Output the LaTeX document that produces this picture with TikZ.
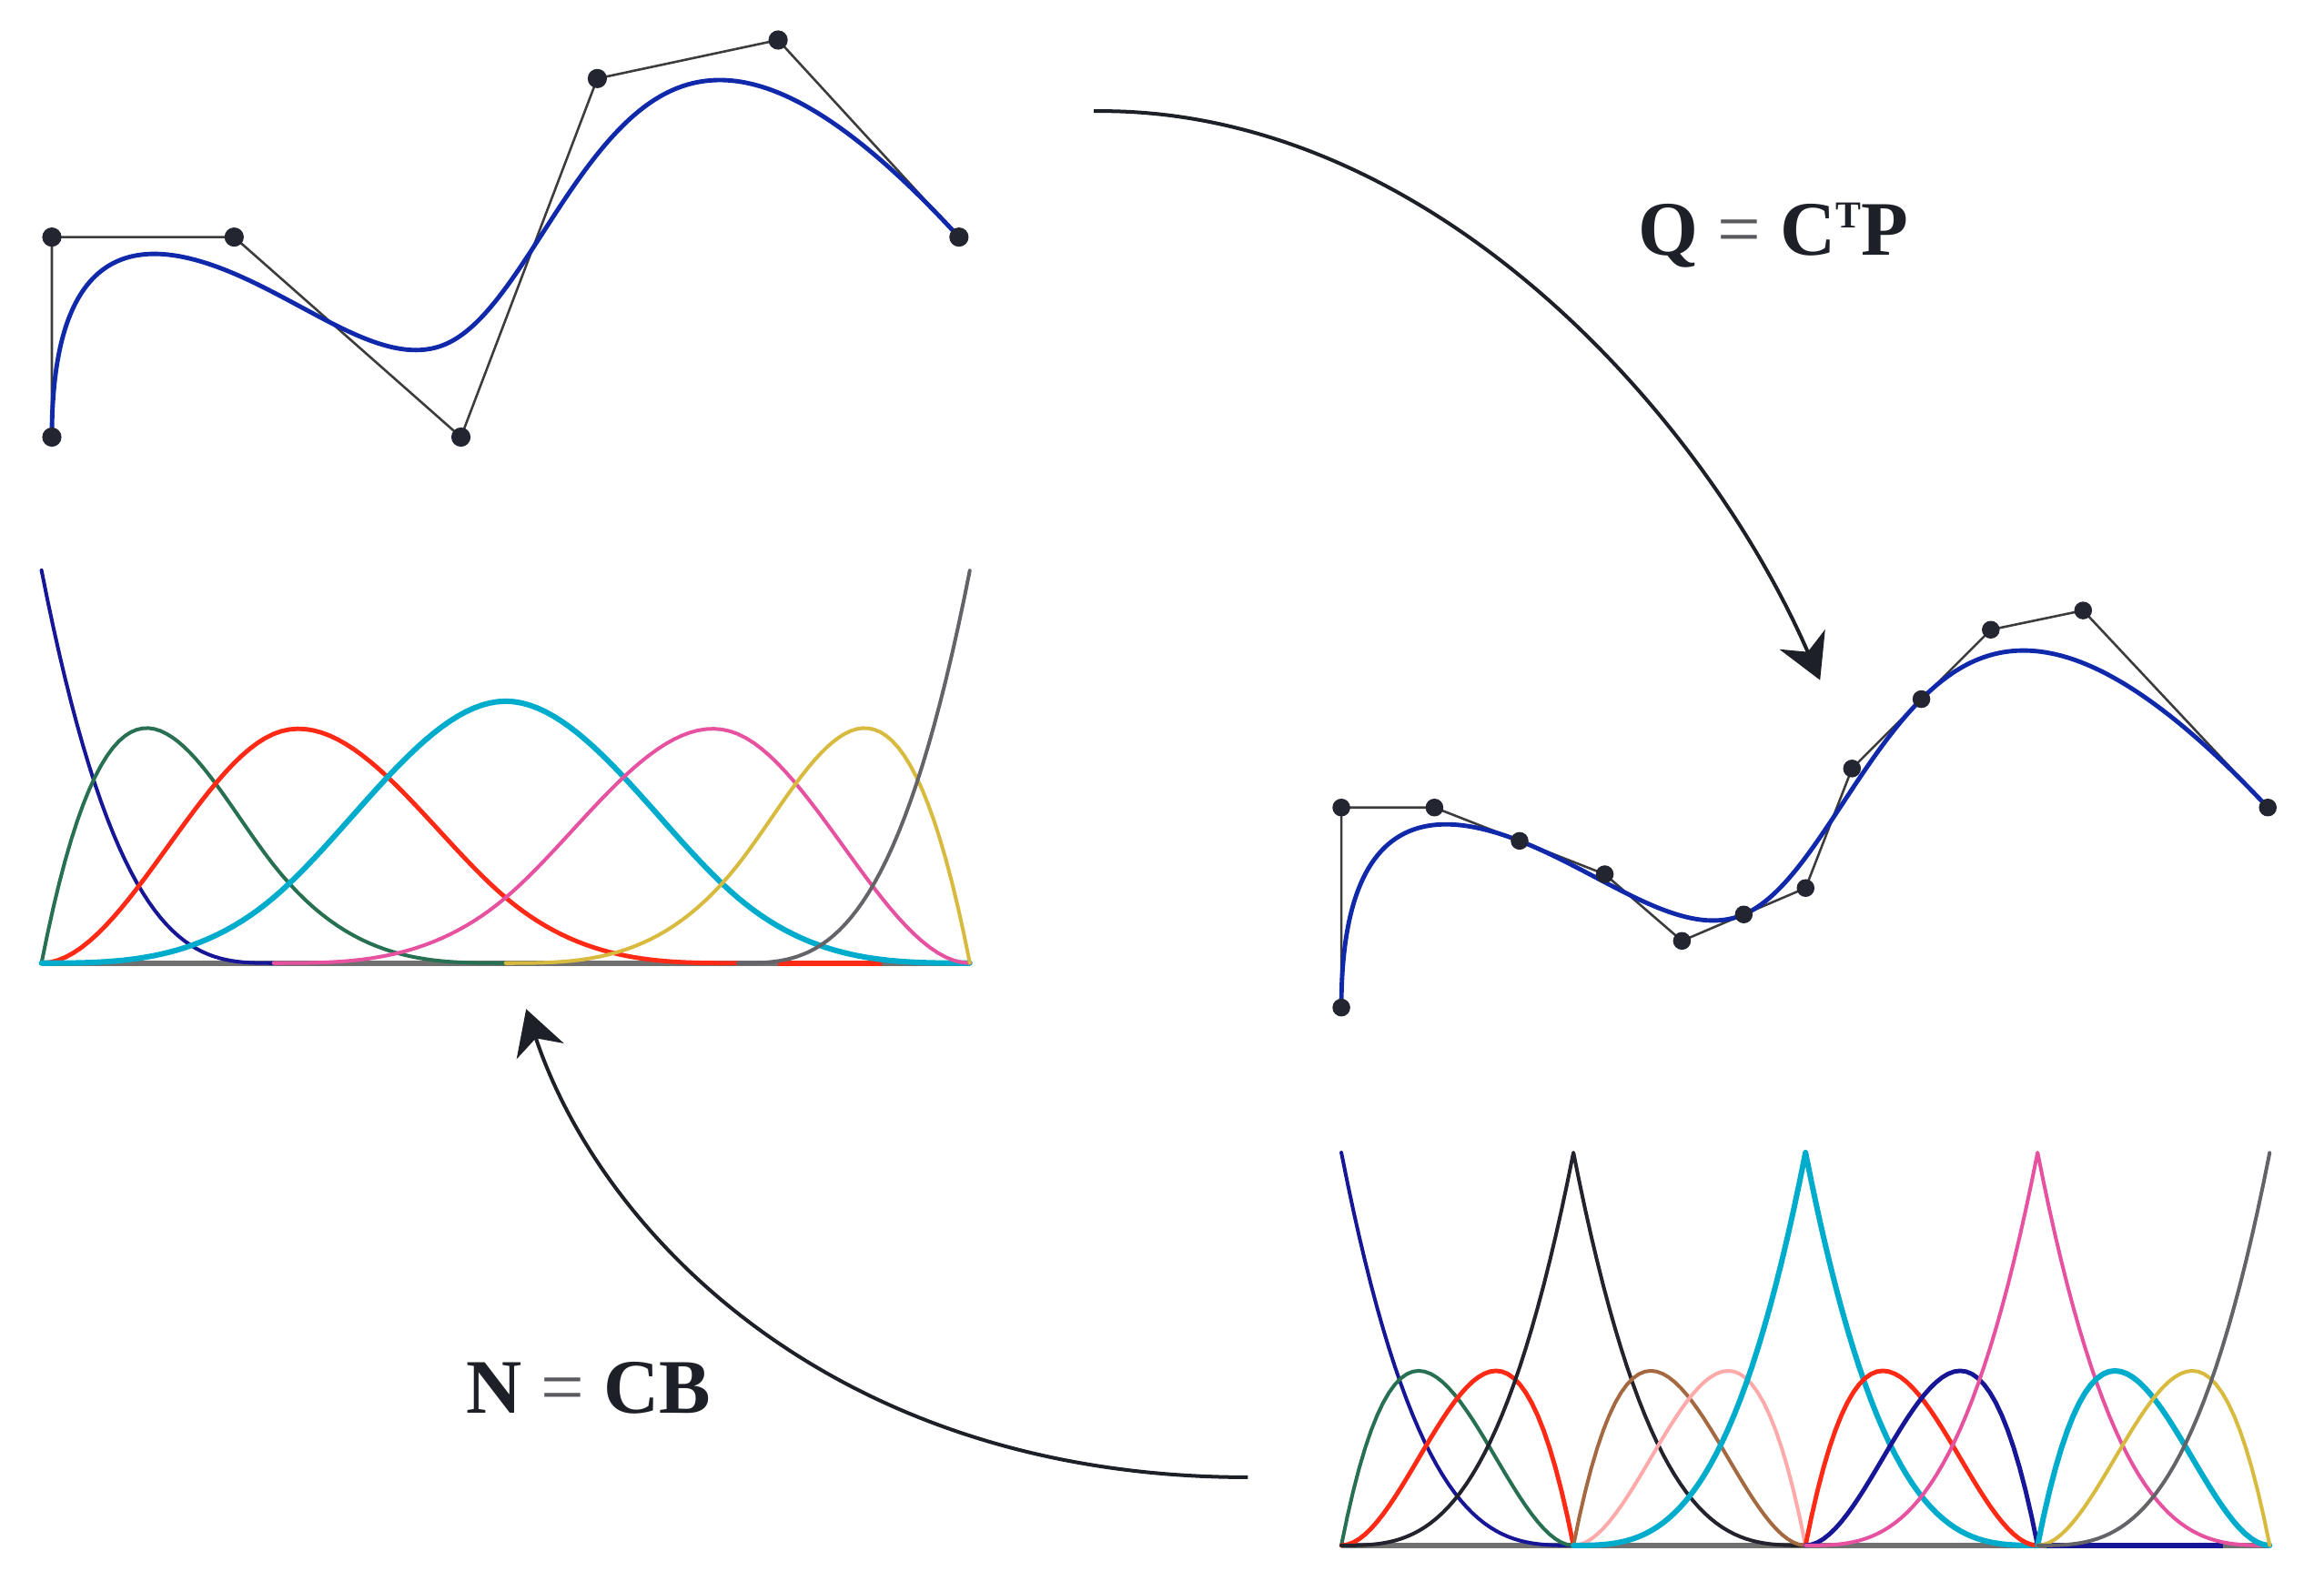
\documentclass[tikz,border=0pt]{standalone}
\usepackage{fontspec}
\setmainfont{Liberation Serif}
\usetikzlibrary{arrows.meta,calc}
\definecolor{cNavy}{RGB}{22,22,150}
\definecolor{cGreen}{RGB}{40,112,82}
\definecolor{cRed}{RGB}{255,42,22}
\definecolor{cCyan}{RGB}{0,172,204}
\definecolor{cPink}{RGB}{230,82,160}
\definecolor{cYellow}{RGB}{216,186,62}
\definecolor{cGray}{RGB}{100,100,104}
\definecolor{cBlack}{RGB}{35,35,45}
\definecolor{cBrown}{RGB}{165,105,65}
\definecolor{cLPink}{RGB}{255,170,170}
\definecolor{cCurve}{RGB}{16,40,170}
\definecolor{cPoly}{RGB}{60,60,62}
\definecolor{cDot}{RGB}{35,38,48}
\definecolor{cArrow}{RGB}{30,32,40}
\definecolor{cBase}{RGB}{112,112,112}
\definecolor{cEq}{RGB}{90,90,95}
\newcommand\splinepts[1]{%
  \coordinate (#1P0) at (35,295);
  \coordinate (#1P1) at (35,160);
  \coordinate (#1P2) at (158,160);
  \coordinate (#1P3) at (311,295);
  \coordinate (#1P4) at (403,53);
  \coordinate (#1P5) at (525,27);
  \coordinate (#1P6) at (647,160);
  \coordinate (#1Q0) at (#1P0);
  \coordinate (#1Q1) at (#1P1);
  \coordinate (#1Q2) at ($0.5*(#1P1)+0.5*(#1P2)$);
  \coordinate (#1Q3) at ($0.25*(#1P1)+0.583333*(#1P2)+0.166667*(#1P3)$);
  \coordinate (#1Q4) at ($0.666667*(#1P2)+0.333333*(#1P3)$);
  \coordinate (#1Q5) at ($0.333333*(#1P2)+0.666667*(#1P3)$);
  \coordinate (#1Q6) at ($0.166667*(#1P2)+0.666667*(#1P3)+0.166667*(#1P4)$);
  \coordinate (#1Q7) at ($0.666667*(#1P3)+0.333333*(#1P4)$);
  \coordinate (#1Q8) at ($0.333333*(#1P3)+0.666667*(#1P4)$);
  \coordinate (#1Q9) at ($0.166667*(#1P3)+0.583333*(#1P4)+0.25*(#1P5)$);
  \coordinate (#1Q10) at ($0.5*(#1P4)+0.5*(#1P5)$);
  \coordinate (#1Q11) at (#1P5);
  \coordinate (#1Q12) at (#1P6);
}
\newcommand\eqsign{{\mdseries\textcolor{cEq}{=}}}
\begin{document}
\begin{tikzpicture}[x=0.01cm,y=-0.01cm,
  declare function={cb(\a)=(\a)*(\a)*(\a); sq(\a)=(\a)*(\a);
    bza(\s)=cb(1-\s); bzb(\s)=3*\s*sq(1-\s); bzc(\s)=3*sq(\s)*(1-\s); bzd(\s)=cb(\s);},
  bas/.style={line width=0.7pt, line join=round, line cap=round},
  thk/.style={line width=0.85pt},
  thkk/.style={line width=1.05pt},
  poly/.style={draw=cPoly, line width=0.45pt},
  bcurve/.style={draw=cCurve, line width=0.85pt},
  dotc/.style={fill=cDot},
  conn/.style={draw=cArrow, line width=0.7pt, -{Stealth[length=8.5pt,width=9.5pt,inset=2.6pt]}},
  lbl/.style={inner sep=0pt, text=cArrow, font=\fontsize{14.8}{18}\selectfont\bfseries},
  baseln/.style={draw=cBase, line width=1.0pt}]
\fill[white] (0,0) rectangle (1568,1060);
\useasboundingbox (0,0) rectangle (1568,1060);

% ---------- top-left B-spline curve ----------
\splinepts{a}
\draw[poly] (aP0) -- (aP1) -- (aP2) -- (aP3) -- (aP4) -- (aP5) -- (aP6);
\draw[bcurve] (aQ0) .. controls (aQ1) and (aQ2) .. (aQ3) .. controls (aQ4) and (aQ5) .. (aQ6)
  .. controls (aQ7) and (aQ8) .. (aQ9) .. controls (aQ10) and (aQ11) .. (aQ12);
\foreach \i in {0,...,6} \fill[dotc] (aP\i) circle[radius=6.5];

% ---------- bottom-right Bezier-decomposed curve ----------
\begin{scope}[shift={(869.26,385)}, xscale=1.0212]
  \splinepts{b}
\end{scope}
\draw[poly] (bQ0) -- (bQ1) -- (bQ2) -- (bQ3) -- (bQ4) -- (bQ5) -- (bQ6) -- (bQ7)
  -- (bQ8) -- (bQ9) -- (bQ10) -- (bQ11) -- (bQ12);
\draw[bcurve] (bQ0) .. controls (bQ1) and (bQ2) .. (bQ3) .. controls (bQ4) and (bQ5) .. (bQ6)
  .. controls (bQ7) and (bQ8) .. (bQ9) .. controls (bQ10) and (bQ11) .. (bQ12);
\foreach \i in {0,...,12} \fill[dotc] (bQ\i) circle[radius=6];

% ---------- top-left B-spline basis ----------
\begin{scope}[shift={(28,650)}, x=1.565cm, y=2.65cm]
  \draw[baseln] (0,0) -- (4,0);
  \draw[cRed, line width=1.0pt] (3.175,0) -- (3.62,0);
  \draw[bas, cNavy] plot[domain=0:1, samples=40] (\x,{cb(1-\x)});
  \draw[bas, cGreen] plot[domain=0:1, samples=40] (\x,{3*\x-4.5*sq(\x)+1.75*cb(\x)})
    -- plot[domain=1:2, samples=30] (\x,{cb(2-\x)/4});
  \draw[bas, thk, cRed] plot[domain=0:1, samples=30] (\x,{1.5*sq(\x)-11/12*cb(\x)})
    -- plot[domain=1:2, samples=30] (\x,{\x*sq(2-\x)/4+(3-\x)*(-2*sq(\x)+6*\x-3)/6})
    -- plot[domain=2:3, samples=30] (\x,{cb(3-\x)/6});
  \draw[bas, thkk, cCyan] plot[domain=0:1, samples=30] (\x,{cb(\x)/6})
    -- plot[domain=1:2, samples=30] (\x,{(-3*cb(\x-1)+3*sq(\x-1)+3*(\x-1)+1)/6})
    -- plot[domain=2:3, samples=30] (\x,{(3*cb(\x-2)-6*sq(\x-2)+4)/6})
    -- plot[domain=3:4, samples=30] (\x,{cb(4-\x)/6});
  \draw[bas, cPink] plot[domain=1:2, samples=30] (\x,{cb(\x-1)/6})
    -- plot[domain=2:3, samples=30] (\x,{(4-\x)*sq(\x-2)/4+(\x-1)*(-2*sq(4-\x)+6*(4-\x)-3)/6})
    -- plot[domain=3:4, samples=30] (\x,{1.5*sq(4-\x)-11/12*cb(4-\x)});
  \draw[bas, cYellow] plot[domain=2:3, samples=30] (\x,{cb(\x-2)/4})
    -- plot[domain=3:4, samples=40] (\x,{3*(4-\x)-4.5*sq(4-\x)+1.75*cb(4-\x)});
  \draw[bas, cGray] plot[domain=3:4, samples=40] (\x,{cb(\x-3)});
\end{scope}

% ---------- bottom-right Bernstein basis ----------
\begin{scope}[shift={(905,1043)}, x=1.565cm, y=2.65cm]
  \draw[baseln] (0,0) -- (4,0);
  \draw[cNavy, line width=1.0pt] (3.04,0) -- (3.8,0);
  \draw[bas, cNavy] plot[domain=0:1, samples=40] (\x,{bza(\x)});
  \draw[bas, cGreen] plot[domain=0:1, samples=40] (\x,{bzb(\x)});
  \draw[bas, thk, cRed] plot[domain=0:1, samples=40] (\x,{bzc(\x)});
  \draw[bas, cBlack] plot[domain=0:1, samples=40] (\x,{bzd(\x)})
    -- plot[domain=1:2, samples=40] (\x,{bza(\x-1)});
  \draw[bas, cBrown] plot[domain=1:2, samples=40] (\x,{bzb(\x-1)});
  \draw[bas, cLPink] plot[domain=1:2, samples=40] (\x,{bzc(\x-1)});
  \draw[bas, thkk, cCyan] plot[domain=1:2, samples=40] (\x,{bzd(\x-1)})
    -- plot[domain=2:3, samples=40] (\x,{bza(\x-2)});
  \draw[bas, thk, cRed] plot[domain=2:3, samples=40] (\x,{bzb(\x-2)});
  \draw[bas, thk, cNavy] plot[domain=2:3, samples=40] (\x,{bzc(\x-2)});
  \draw[bas, cPink] plot[domain=2:3, samples=40] (\x,{bzd(\x-2)})
    -- plot[domain=3:4, samples=40] (\x,{bza(\x-3)});
  \draw[bas, thkk, cCyan] plot[domain=3:4, samples=40] (\x,{bzb(\x-3)});
  \draw[bas, cYellow] plot[domain=3:4, samples=40] (\x,{bzc(\x-3)});
  \draw[bas, cGray] plot[domain=3:4, samples=40] (\x,{bzd(\x-3)});
\end{scope}

% ---------- arrows and labels ----------
\coordinate (arrAs) at (738,75);
\coordinate (arrAe) at (1228,459);
\coordinate (arrBs) at (842,997);
\coordinate (arrBe) at (355,681);
\draw[conn] (arrAs) .. controls (965,72) and (1150,280) .. (arrAe);
\draw[conn] (arrBs) .. controls (561,997) and (405,831) .. (arrBe);

\node[lbl, anchor=base] (eqQ) at (1196.5,172)
  {Q \eqsign{} C\raisebox{5.1pt}{\fontsize{7.3}{8}\selectfont T}P};
\node[lbl, anchor=base] (eqN) at (397,953.6) {N \eqsign{} CB};
\end{tikzpicture}
\end{document}
